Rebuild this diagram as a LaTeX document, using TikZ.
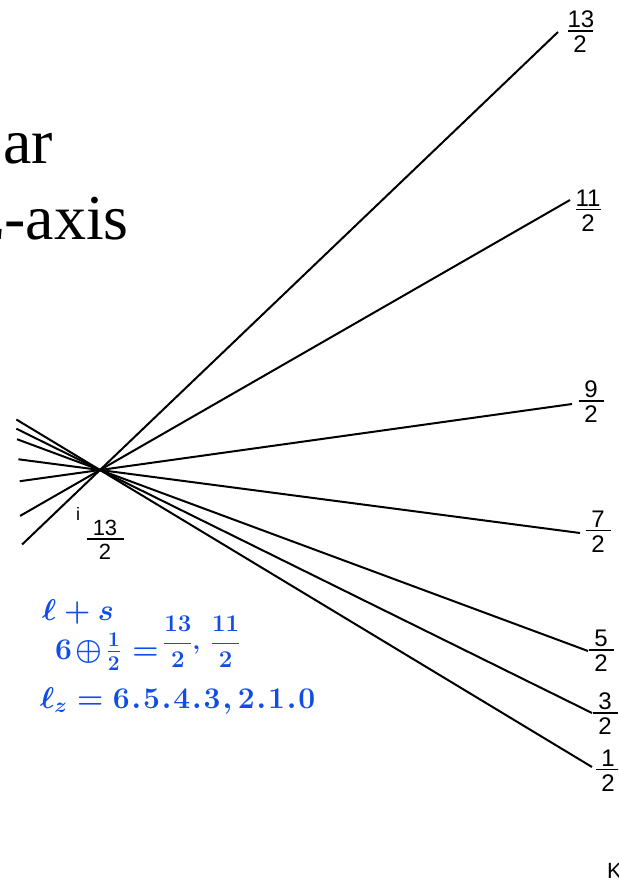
\RequirePackage{fix-cm}
\documentclass[tikz,border=0pt]{standalone}
\usepackage{amsmath}
\usepackage{fontspec}
\setmainfont{Liberation Serif}
\newfontfamily\mjfont{Liberation Sans}
\usetikzlibrary{calc}
\definecolor{mjedge}{RGB}{0,0,0}
\definecolor{penblue}{RGB}{16,76,232}
% stacked fraction with a fixed bar width
\newcommand{\mjfrac}[3][25pt]{\vbox{\hbox to #1{\hfil#2\hfil}\kern2pt
  \hrule height 1.6pt width #1\kern4.5pt\hbox to #1{\hfil#3\hfil}}}
\newcommand{\pd}{\mkern1mu.\mkern1mu}
\tikzset{
  mjline/.style={draw=mjedge, line width=2pt},
  mjlab/.style={inner sep=0pt, font=\fontsize{24}{28}\mjfont},
  head/.style={inner sep=0pt, anchor=base east, font=\fontsize{64}{70}\selectfont},
  pen/.style={inner sep=0pt, anchor=base west, text=penblue,
    font=\fontsize{30}{34}\selectfont\boldmath}
}

\begin{document}
\begin{tikzpicture}[x=1pt,y=-1pt]
  \useasboundingbox (0,0) rectangle (618,882);
  \clip (0,0) rectangle (618,882);

  % Heading, cut at the left edge
  \node[head] (hd1) at (53,164) {ar};
  \node[head] (hd2) at (129,240) {z-axis};

  % Crossing point and right-hand ends
  \coordinate (ctr) at (100,470);
  \coordinate (e13) at (558,32);
  \coordinate (e11) at (570,200);
  \coordinate (e9) at (572,404);
  \coordinate (e7) at (580,533);
  \coordinate (e5) at (588,651);
  \coordinate (e3) at (592,713);
  \coordinate (e1) at (592,767);

  \foreach \m in {13,11,9,7,5,3,1} {
    \coordinate (s\m) at ($(ctr)!-0.17!(e\m)$);
    \draw[mjline] (s\m) -- (e\m);
  }

  % Level labels
  \node[mjlab] (f13) at (580,32) {\mjfrac{13}{2}};
  \node[mjlab] (f11) at (588,211) {\mjfrac{11}{2}};
  \node[mjlab] (f9) at (591,402) {\mjfrac{9}{2}};
  \node[mjlab] (f7) at (598,532) {\mjfrac{7}{2}};
  \node[mjlab] (f5) at (601,651) {\mjfrac{5}{2}};
  \node[mjlab] (f3) at (605,714) {\mjfrac{3}{2}};
  \node[mjlab] (f1) at (608,771) {\mjfrac{1}{2}};

  \node[inner sep=0pt, anchor=base, font=\fontsize{18}{20}\mjfont] (ii) at (78,520) {i};
  \node[inner sep=0pt, font=\fontsize{22}{26}\mjfont] (jj) at (105,540) {\mjfrac[37pt]{13}{2}};

  \node[inner sep=0pt, anchor=base west, font=\fontsize{22}{26}\mjfont] (kk) at (607,878) {K};

  % Pen notes
  \node[pen] (hw1) at (42,620) {$\ell+s$};
  \node[pen] (hw2) at (55,659) {$6\mkern2mu{\oplus}\mkern2mu\tfrac{1}{2}\mkern6mu{=}$};
  \node[pen, font=\fontsize{24}{28}\selectfont\boldmath] (hw2b) at (163,649)
    {$\dfrac{13}{2},\mkern4mu\dfrac{11}{2}$};
  \node[pen] (hw3) at (40,708) {$\ell_z=6\pd5\pd4\pd3\mkern1mu,2\pd1\pd0$};
\end{tikzpicture}
\end{document}
